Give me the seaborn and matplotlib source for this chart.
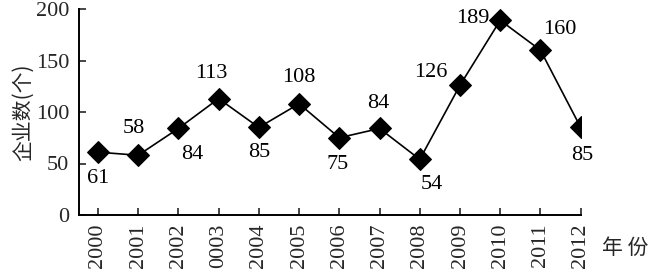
import matplotlib
matplotlib.use("Agg")
import matplotlib.pyplot as plt
import seaborn as sns
import pandas as pd

years = ["2000", "2001", "2002", "0003", "2004", "2005", "2006",
         "2007", "2008", "2009", "2010", "2011", "2012"]
counts = [61, 58, 84, 113, 85, 108, 75, 84, 54, 126, 189, 160, 85]
# label offsets (points) relative to each marker
offsets = [(0, -19), (-3, 19), (10, -19), (-5, 18), (0, -18), (0, 19),
           (-1, -19), (-1, 18), (9, -18), (-21, 9), (-20, 1.5), (14, 15), (1, -20)]

sns.set_style("ticks")
plt.rcParams['font.family'] = ['Liberation Serif', 'Noto Sans CJK SC']

fig = plt.figure(figsize=(6.5, 2.71), dpi=100)
ax = fig.add_axes([79/650, 1-215/271, (580.7-79)/650, (215-9)/271])

df = pd.DataFrame({"x": range(len(years)), "y": counts})
sns.lineplot(data=df, x="x", y="y", ax=ax, color="black", linewidth=1.2,
             marker="D", markersize=11, markeredgecolor="black",
             markerfacecolor="black")

for i, (v, off) in enumerate(zip(counts, offsets)):
    ax.annotate(str(v), (i, v), xytext=off, textcoords="offset points",
                ha="center", va="center", fontsize=16, color="black")

ax.set_xlim(-0.47, 12)
ax.set_ylim(0, 200)
ax.set_yticks([0, 50, 100, 150, 200])
ax.set_xticks(range(len(years)))
ax.set_xticklabels(years, rotation=90, fontsize=16)
ax.tick_params(axis="y", direction="in", length=5, width=1.2, labelsize=16, pad=7)
ax.tick_params(axis="x", direction="in", length=5, width=1.2, pad=6)
for s in ["top", "right"]:
    ax.spines[s].set_visible(False)
for s in ["left", "bottom"]:
    ax.spines[s].set_linewidth(1.4)
    ax.spines[s].set_color("black")

ax.set_xlabel("")
ax.set_ylabel("企业数(个)", fontsize=15, family=['Noto Sans CJK SC'], labelpad=1)
fig.text(625/650, 1-248/271, "年 份", fontsize=15, family=['Noto Sans CJK SC'],
         ha="center", va="center")

fig.savefig("out.png", dpi=100)
